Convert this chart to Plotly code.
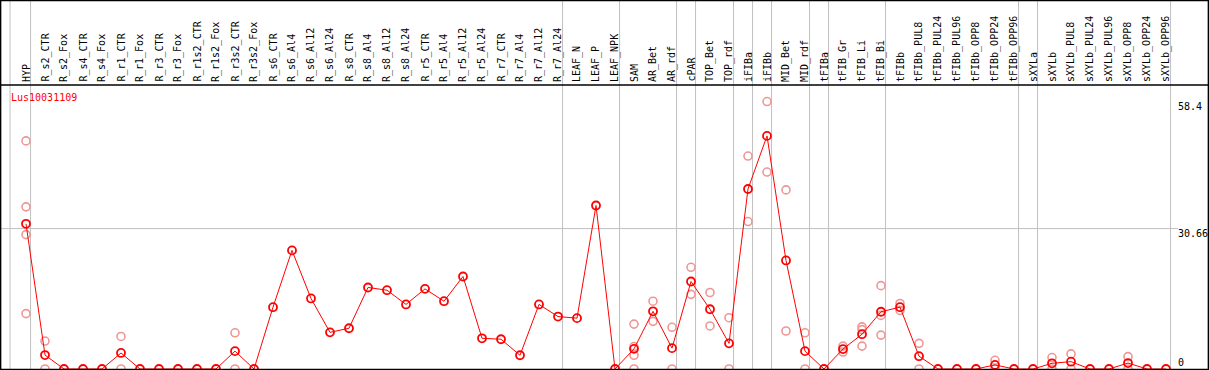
import plotly.graph_objects as go

categories = ["HYP", "R_s2_CTR", "R_s2_Fox", "R_s4_CTR", "R_s4_Fox", "R_r1_CTR", "R_r1_Fox",
              "R_r3_CTR", "R_r3_Fox", "R_r1s2_CTR", "R_r1s2_Fox", "R_r3s2_CTR", "R_r3s2_Fox",
              "R_s6_CTR", "R_s6_Al4", "R_s6_Al12", "R_s6_Al24", "R_s8_CTR", "R_s8_Al4",
              "R_s8_Al12", "R_s8_Al24", "R_r5_CTR", "R_r5_Al4", "R_r5_Al12", "R_r5_Al24",
              "R_r7_CTR", "R_r7_Al4", "R_r7_Al12", "R_r7_Al24", "LEAF_N", "LEAF_P", "LEAF_NPK",
              "SAM", "AR_Bet", "AR_rdf", "cPAR", "TOP_Bet", "TOP_rdf", "iFIBa", "iFIBb",
              "MID_Bet", "MID_rdf", "tFIBa", "tFIB_Gr", "tFIB_Li", "tFIB_Bi", "tFIBb",
              "tFIBb_PUL8", "tFIBb_PUL24", "tFIBb_PUL96", "tFIBb_OPP8", "tFIBb_OPP24",
              "tFIBb_OPP96", "sXYLa", "sXYLb", "sXYLb_PUL8", "sXYLb_PUL24", "sXYLb_PUL96",
              "sXYLb_OPP8", "sXYLb_OPP24", "sXYLb_OPP96"]

mean_values = [31.7, 3.05, 0, 0, 0, 3.5, 0, 0, 0, 0, 0, 3.9, 0,
               13.5, 25.9, 15.4, 8.0, 8.9, 17.8, 17.2, 14.1, 17.5, 14.8, 20.2, 6.7,
               6.5, 3.0, 14.1, 11.45, 11.1, 35.7, 0,
               4.4, 12.6, 4.55, 19.1, 13.05, 5.6, 39.3, 50.9, 23.7, 3.9,
               0, 4.35, 7.6, 12.5, 13.5, 2.8, 0, 0, 0, 0.9, 0,
               0, 1.25, 1.6, 0, 0, 1.3, 0, 0]

replicates = {
    "HYP": [49.8, 35.4, 29.35, 12.1],
    "R_s2_CTR": [6.1, 0],
    "R_r1_CTR": [7.1, 0],
    "R_r3s2_CTR": [7.9, 0],
    "SAM": [9.8, 4.9, 3.0, 0],
    "AR_Bet": [14.8, 10.4],
    "AR_rdf": [9.1, 0],
    "cPAR": [22.2, 16.3],
    "TOP_Bet": [16.7, 9.4],
    "TOP_rdf": [11.2, 0],
    "iFIBa": [46.5, 32.2],
    "iFIBb": [58.4, 43.0],
    "MID_Bet": [39.1, 8.3],
    "MID_rdf": [7.9, 0],
    "tFIB_Gr": [5.0, 3.7],
    "tFIB_Li": [9.2, 8.6, 5.0],
    "tFIB_Bi": [18.2, 11.7, 7.4],
    "tFIBb": [14.3, 12.8],
    "tFIBb_PUL8": [5.6, 0],
    "tFIBb_OPP24": [1.9, 0],
    "sXYLb": [2.5, 0],
    "sXYLb_PUL8": [3.3, 0],
    "sXYLb_OPP8": [2.7, 0],
}

group_ends = [0, 28, 31, 34, 35, 37, 38, 39, 41, 42, 45, 52, 53, 60]
gene_name = "Lus10031109"
y_tick_labels = ["58.4", "30.66", "0"]
y_tick_values = [58.4, 30.66, 0]

W, H = 1209, 370
X0, DX = 26.0, 19.0          # pixel of first category, spacing
Y0, KY = 369.0, 4.58         # pixel of value 0, pixels per unit
HEADER = 85

def py(px):
    return 1 - px / H

x_idx = list(range(len(categories)))
idx = {c: i for i, c in enumerate(categories)}
rx, ry = [], []
for c, vals in replicates.items():
    for v in vals:
        rx.append(idx[c])
        ry.append(v)

fig = go.Figure()
fig.add_trace(go.Scatter(x=rx, y=ry, mode="markers",
                         marker=dict(symbol="circle-open", size=8, color="rgb(240,150,150)",
                                     line=dict(width=1.6, color="rgb(240,150,150)")),
                         showlegend=False, hoverinfo="skip"))
fig.add_trace(go.Scatter(x=x_idx, y=mean_values, mode="lines+markers",
                         line=dict(color="#ff0000", width=1),
                         marker=dict(symbol="circle-open", size=8, color="#ff0000",
                                     line=dict(width=1.8, color="#ff0000")),
                         showlegend=False))

shapes = []
grid = "#c0c0c0"
# vertical group separators
for gx in [-0.84] + [e + 0.24 for e in group_ends]:
    shapes.append(dict(type="line", xref="x", yref="paper", x0=gx, x1=gx, y0=0, y1=1,
                       line=dict(color=grid, width=1), layer="below"))
# horizontal gridline at middle tick
shapes.append(dict(type="line", xref="paper", yref="y", x0=0, x1=1178 / W,
                   y0=30.66, y1=30.66, line=dict(color=grid, width=1), layer="below"))
# black frame and header line
blk = dict(color="black", width=1.5)
shapes += [
    dict(type="line", xref="paper", yref="paper", x0=0, x1=1, y0=py(0.5), y1=py(0.5), line=blk),
    dict(type="line", xref="paper", yref="paper", x0=0, x1=1, y0=py(HEADER), y1=py(HEADER), line=blk),
    dict(type="line", xref="paper", yref="paper", x0=0, x1=1, y0=py(369.5), y1=py(369.5), line=blk),
    dict(type="line", xref="paper", yref="paper", x0=0.6 / W, x1=0.6 / W, y0=0, y1=1, line=blk),
    dict(type="line", xref="paper", yref="paper", x0=1208.4 / W, x1=1208.4 / W, y0=0, y1=1, line=blk),
]

font = dict(family="DejaVu Sans Mono", size=10, color="black")
ann = []
for i, c in enumerate(categories):
    ann.append(dict(x=i, y=py(83), xref="x", yref="paper", text=c, showarrow=False,
                    textangle=-90, xanchor="center", yanchor="bottom", font=font, borderpad=0))
ann.append(dict(x=10 / W, y=py(97), xref="paper", yref="paper", text=gene_name, showarrow=False,
                xanchor="left", yanchor="middle", borderpad=0,
                font=dict(family="DejaVu Sans Mono", size=10, color="#ff0000")))
label_px = [107, 233, 362]
for t, p in zip(y_tick_labels, label_px):
    ann.append(dict(x=1177 / W, y=py(p), xref="paper", yref="paper", text=t, showarrow=False,
                    xanchor="left", yanchor="middle", font=font, borderpad=0))

fig.update_layout(
    width=W, height=H, margin=dict(l=0, r=0, t=0, b=0),
    paper_bgcolor="white", plot_bgcolor="white",
    xaxis=dict(range=[-X0 / DX, (W - X0) / DX], visible=False, fixedrange=True),
    yaxis=dict(range=[-(H - Y0) / KY, Y0 / KY], visible=False, fixedrange=True),
    shapes=shapes, annotations=ann, showlegend=False,
)
fig.write_html("out.html", config={"displayModeBar": False},
               post_script="document.body.style.margin='0px';document.body.style.overflow='hidden';")
